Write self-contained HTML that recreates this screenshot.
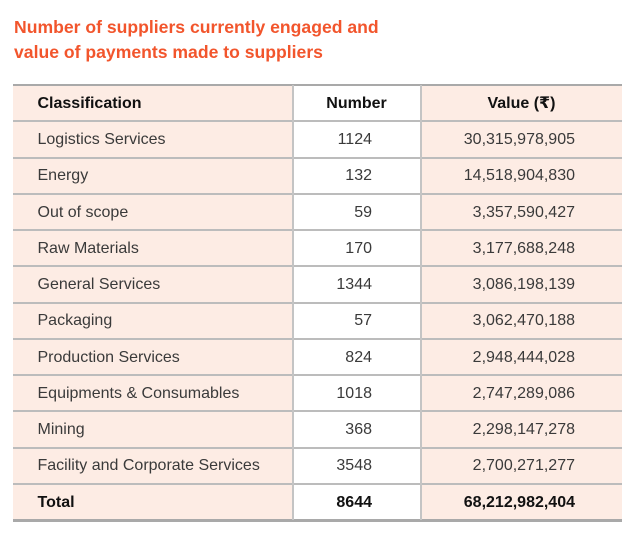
<!DOCTYPE html>
<html><head><meta charset="utf-8"><style>
html,body{margin:0;padding:0;background:#fff;}
body{width:637px;height:534px;position:relative;overflow:hidden;font-family:"Liberation Sans","DejaVu Sans",sans-serif;}
.title{position:absolute;left:14px;top:15px;font-size:17.6px;line-height:25px;font-weight:bold;color:#f2552c;white-space:nowrap;}
.bg{position:absolute;top:85px;height:435px;}
.h{position:absolute;left:13px;width:609px;height:2px;background:#bcbcbc;}
.v{position:absolute;top:85px;height:435px;width:2px;background:#c4c4c4;}
.t{position:absolute;font-size:16px;color:#3a3a3a;white-space:nowrap;height:36px;line-height:36px;}
.l{left:37.5px;}
.n{right:265px;text-align:right;}
.val{right:62px;text-align:right;}
.b{font-weight:bold;color:#111;}
</style></head><body>
<div class="title">Number of suppliers currently engaged and<br>value of payments made to suppliers</div>

<div class="bg" style="left:13px;width:280px;background:#fdece4;"></div>
<div class="bg" style="left:293px;width:128px;background:#fff;"></div>
<div class="bg" style="left:421px;width:201px;background:#fdece4;"></div>

<div class="h" style="top:83.5px;background:#a9a9a9;"></div>
<div class="h" style="top:120px;"></div>
<div class="h" style="top:156.5px;"></div>
<div class="h" style="top:192.8px;"></div>
<div class="h" style="top:229px;"></div>
<div class="h" style="top:265.3px;"></div>
<div class="h" style="top:301.6px;"></div>
<div class="h" style="top:337.8px;"></div>
<div class="h" style="top:374px;"></div>
<div class="h" style="top:410.3px;"></div>
<div class="h" style="top:446.5px;"></div>
<div class="h" style="top:482.5px;"></div>
<div class="h" style="top:518.5px;height:3px;background:#a9a9a9;"></div>

<div class="v" style="left:291.5px;"></div>
<div class="v" style="left:419.5px;"></div>

<!-- header -->
<div class="t l b" style="top:85.5px;">Classification</div>
<div class="t b" style="top:85.5px;left:293px;width:127px;text-align:center;">Number</div>
<div class="t b" style="top:85.5px;left:421px;width:201px;text-align:center;">Value (₹)</div>

<div class="t l" style="top:122px;">Logistics Services</div>
<div class="t n" style="top:122px;">1124</div>
<div class="t val" style="top:122px;">30,315,978,905</div>

<div class="t l" style="top:158.3px;">Energy</div>
<div class="t n" style="top:158.3px;">132</div>
<div class="t val" style="top:158.3px;">14,518,904,830</div>

<div class="t l" style="top:194.5px;">Out of scope</div>
<div class="t n" style="top:194.5px;">59</div>
<div class="t val" style="top:194.5px;">3,357,590,427</div>

<div class="t l" style="top:230.8px;">Raw Materials</div>
<div class="t n" style="top:230.8px;">170</div>
<div class="t val" style="top:230.8px;">3,177,688,248</div>

<div class="t l" style="top:267.1px;">General Services</div>
<div class="t n" style="top:267.1px;">1344</div>
<div class="t val" style="top:267.1px;">3,086,198,139</div>

<div class="t l" style="top:303.4px;">Packaging</div>
<div class="t n" style="top:303.4px;">57</div>
<div class="t val" style="top:303.4px;">3,062,470,188</div>

<div class="t l" style="top:339.6px;">Production Services</div>
<div class="t n" style="top:339.6px;">824</div>
<div class="t val" style="top:339.6px;">2,948,444,028</div>

<div class="t l" style="top:375.9px;">Equipments &amp; Consumables</div>
<div class="t n" style="top:375.9px;">1018</div>
<div class="t val" style="top:375.9px;">2,747,289,086</div>

<div class="t l" style="top:412.1px;">Mining</div>
<div class="t n" style="top:412.1px;">368</div>
<div class="t val" style="top:412.1px;">2,298,147,278</div>

<div class="t l" style="top:448.3px;">Facility and Corporate Services</div>
<div class="t n" style="top:448.3px;">3548</div>
<div class="t val" style="top:448.3px;">2,700,271,277</div>

<div class="t l b" style="top:484.5px;">Total</div>
<div class="t n b" style="top:484.5px;">8644</div>
<div class="t val b" style="top:484.5px;">68,212,982,404</div>
</body></html>
